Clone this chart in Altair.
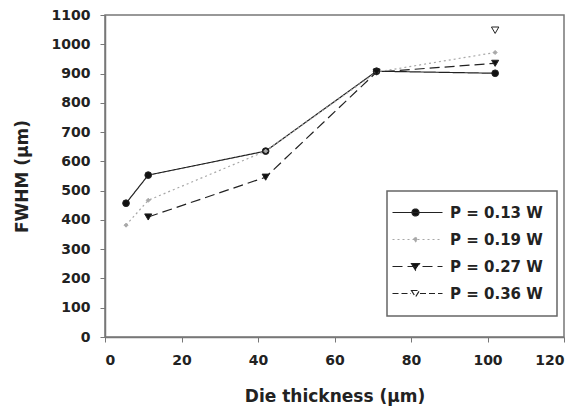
import altair as alt
import pandas as pd

# ---- data ----
thickness = [5.5, 11.3, 42, 71, 102]
series_names = ["P = 0.13 W", "P = 0.19 W", "P = 0.27 W", "P = 0.36 W"]
p013 = [457, 553, 635, 908, 901]
p019 = [382, 467, 635, 905, 972]
p027 = [None, 410, 546, 905, 935]
p036 = [None, None, None, None, 1048]

rows = []
for name, vals in zip(series_names, [p013, p019, p027, p036]):
    for t, v in zip(thickness, vals):
        if v is not None:
            rows.append({"thickness": t, "fwhm": v, "series": name})
df = pd.DataFrame(rows)

# ---- styles ----
stroke_range = ["#222222", "#a8a8a8", "#222222", "#222222"]
fill_range = ["#111111", "#a8a8a8", "#111111", "#ffffff"]
dash_range = [[1, 0], [2, 3], [10, 5], [6, 3]]
marker_shapes = ["circle", "diamond", "triangle-down", "triangle-down"]
marker_sizes = [45, 16, 50, 55]

# legend symbols: line + marker, in units of 5 px
legend_paths = [
    "M-3.2,0H6.8M0.7,0A0.7,0.7 0 1,0 2.1,0A0.7,0.7 0 1,0 0.7,0Z",
    "M-3.2,0H6.8M1.4,-0.45L1.85,0L1.4,0.45L0.95,0Z",
    "M-3.2,0H6.8M0.6,-0.6L2.2,-0.6L1.4,0.7Z",
    "M-3.2,0H0.5M2.3,0H6.8M0.6,-0.6L2.2,-0.6L1.4,0.7Z",
]

dom = series_names
stroke_enc = alt.Stroke("series:N", scale=alt.Scale(domain=dom, range=stroke_range), title=None)
fill_enc = alt.Fill("series:N", scale=alt.Scale(domain=dom, range=fill_range), title=None)
dash_enc = alt.StrokeDash("series:N", scale=alt.Scale(domain=dom, range=dash_range), title=None)

x_enc = alt.X(
    "thickness:Q",
    title="Die thickness (μm)",
    scale=alt.Scale(domain=[0, 120], nice=False),
    axis=alt.Axis(values=[0, 20, 40, 60, 80, 100, 120], grid=False),
)
y_enc = alt.Y(
    "fwhm:Q",
    title="FWHM (μm)",
    scale=alt.Scale(domain=[0, 1100], nice=False),
    axis=alt.Axis(values=list(range(0, 1101, 100)), grid=False, format="d"),
)

base = alt.Chart(df)

lines = base.mark_line(strokeWidth=1.2).encode(
    x=x_enc, y=y_enc, stroke=stroke_enc, strokeDash=dash_enc, order="thickness:Q"
)

point_layers = []
for name, shp, sz in zip(series_names, marker_shapes, marker_sizes):
    point_layers.append(
        base.transform_filter(alt.datum.series == name)
        .mark_point(shape=shp, size=sz, filled=True, strokeWidth=1, opacity=1)
        .encode(x=x_enc, y=y_enc, fill=fill_enc, stroke=stroke_enc)
    )

legend_layer = (
    base.transform_filter("datum.fwhm < -1000")
    .mark_point(filled=True, strokeWidth=1.2, size=100, opacity=1)
    .encode(
        x=x_enc,
        y=y_enc,
        shape=alt.Shape("series:N", scale=alt.Scale(domain=dom, range=legend_paths), title=None),
        fill=fill_enc,
        stroke=stroke_enc,
        strokeDash=dash_enc,
    )
)

chart = (
    alt.layer(lines, *point_layers, legend_layer)
    .properties(
        width=459,
        height=322,
        autosize=alt.AutoSizeParams(type="none"),
        padding={"left": 97, "top": 7, "right": 16, "bottom": 76},
    )
    .configure_view(stroke="#777777", strokeWidth=1.5)
    .configure_axis(
        labelFont="DejaVu Sans",
        labelFontWeight="bold",
        labelFontSize=14,
        labelColor="#222222",
        titleFont="DejaVu Sans",
        titleFontWeight="bold",
        titleFontSize=17,
        titleColor="#222222",
        domainColor="#777777",
        domainWidth=1.5,
        tickColor="#777777",
        tickSize=5,
    )
    .configure_axisX(labelPadding=11, titlePadding=21)
    .configure_axisY(labelPadding=10, titlePadding=20)
    .configure_legend(
        orient="none",
        legendX=282,
        legendY=176,
        padding=14,
        strokeColor="#666666",
        strokeWidth=1.5,
        fillColor="#ffffff",
        cornerRadius=0,
        labelFont="DejaVu Sans",
        labelFontWeight="bold",
        labelFontSize=15,
        labelColor="#222222",
        labelOffset=34,
        rowPadding=11,
        symbolSize=100,
        symbolStrokeWidth=1.2,
        labelLimit=300,
    )
)

chart.save("out.html", embed_options={"renderer": "svg", "actions": False})
